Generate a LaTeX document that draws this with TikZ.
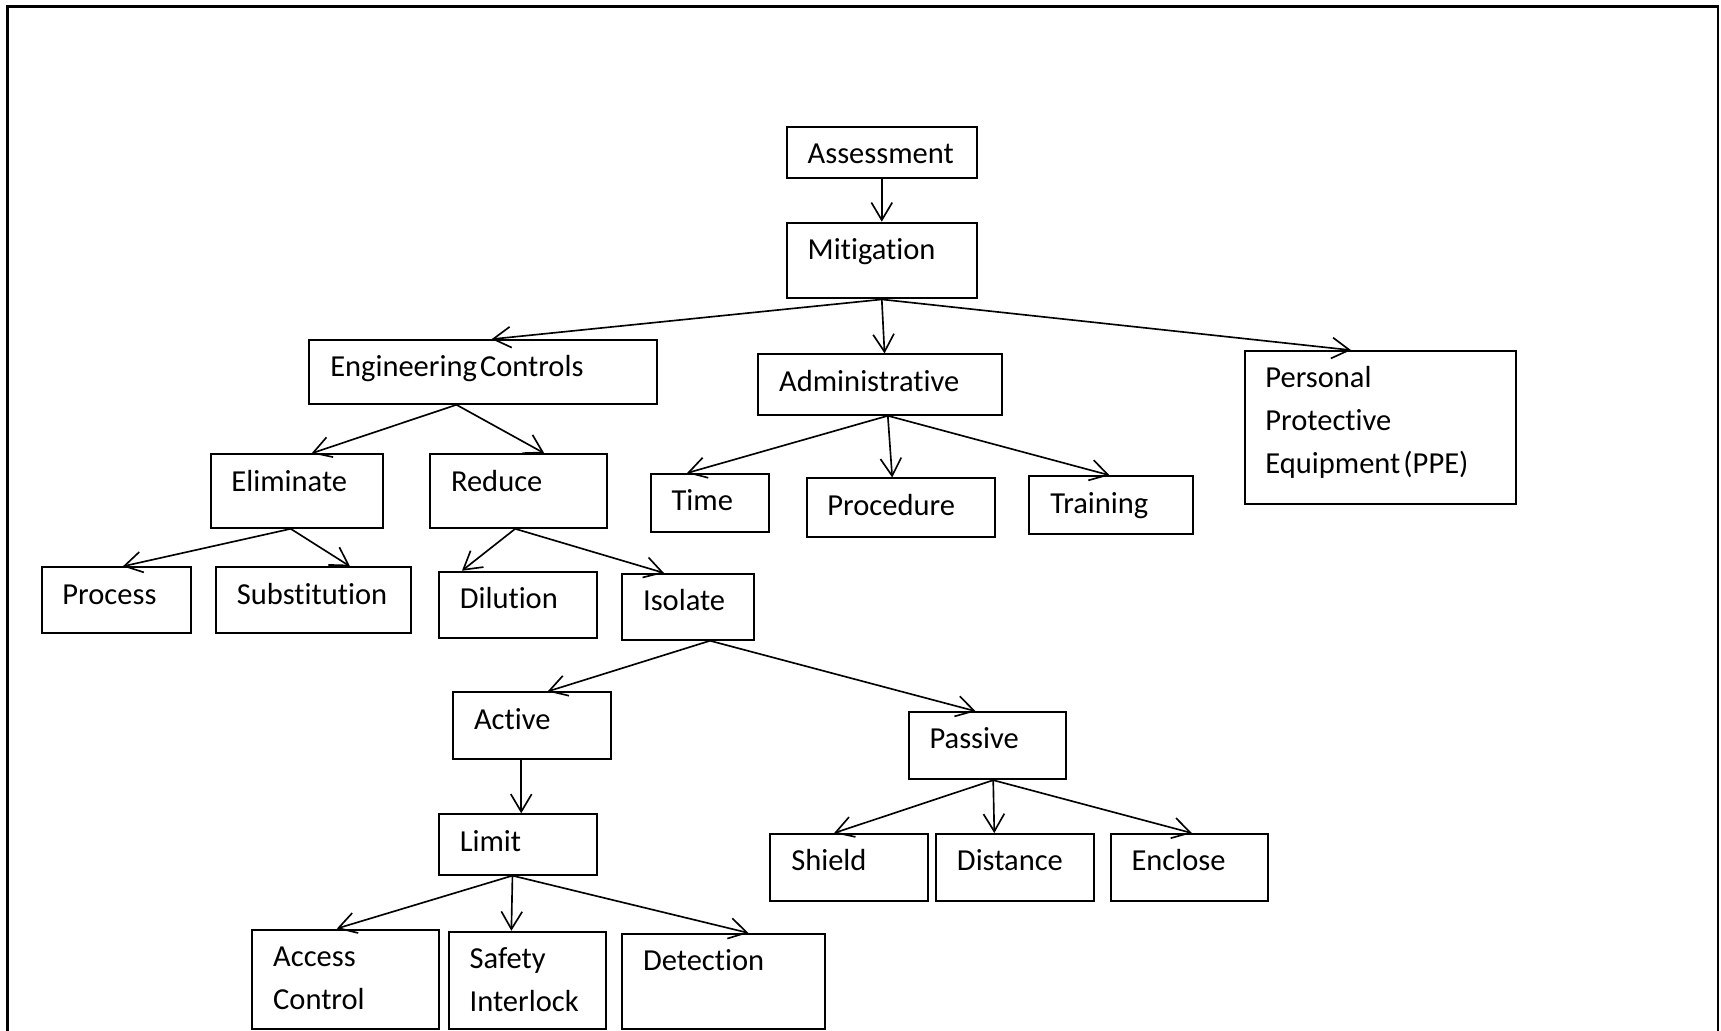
\documentclass[tikz,border=0pt]{standalone}
\usepackage{fontspec}
\setmainfont[Ligatures=NoCommon]{Carlito}
\usetikzlibrary{arrows.meta, calc}

\tikzset{
  box/.style={draw, line width=1.8pt, anchor=north west, align=left,
    inner xsep=19pt, inner ysep=0pt, text height=33.5pt,
    font=\fontsize{27.8pt}{39pt}\selectfont,
    execute at begin node={\spaceskip=0.1em\relax}},
  arr/.style={->, line width=1.5pt},
}

\begin{document}
\begin{tikzpicture}[x=1pt, y=-1pt, >={Straight Barb[length=16pt,width=19pt]}]
\useasboundingbox (0,0) rectangle (1568,939);

% frame
\draw[line width=2.2pt] (7,945) -- (7,6) -- (1565,6) -- (1565,945);

% top
\node[box, text width=135pt, text depth=12.5pt] (assess) at (716,115) {Assessment};
\node[box, text width=135pt, text depth=35.5pt] (mitig) at (716,202) {Mitigation};

% second level
\node[box, text width=279pt, text depth=24.5pt] (eng) at (281,309) {Engineering Controls};
\node[box, text width=184pt, text depth=21.5pt] (admin) at (690,322) {Administrative};
\node[box, text width=209pt, text depth=105.5pt] (ppe) at (1133,319) {Personal\\Protective\\Equipment (PPE)};

% engineering controls
\node[box, text width=119pt, text depth=33.5pt] (elim) at (191,413) {Eliminate};
\node[box, text width=123pt, text depth=33.5pt] (reduce) at (391,413) {Reduce};
\node[box, text width=98pt, text depth=26.5pt] (process) at (37,516) {Process};
\node[box, text width=140pt, text depth=26.5pt] (subst) at (196,516) {Substitution};
\node[box, text width=106pt, text depth=26.5pt] (dilut) at (399,520) {Dilution};
\node[box, text width=82pt, text depth=26.5pt] (isolate) at (566,522) {Isolate};

% administrative
\node[box, text width=70pt, text depth=19.5pt] (time) at (592,431) {Time};
\node[box, text width=134pt, text depth=19.5pt] (proc) at (734,435) {Procedure};
\node[box, text width=111pt, text depth=19.5pt] (train) at (937,433) {Training};

% isolate
\node[box, text width=106pt, text depth=27.5pt] (active) at (412,630) {Active};
\node[box, text width=105pt, text depth=27.5pt] (passive) at (827,648) {Passive};
\node[box, text width=106pt, text depth=21.5pt] (limit) at (399,741) {Limit};
\node[box, text width=106pt, text depth=27.5pt] (shield) at (701,759) {Shield};
\node[box, text width=106pt, text depth=27.5pt] (dist) at (852,759) {Distance};
\node[box, text width=105pt, text depth=27.5pt] (encl) at (1011,759) {Enclose};
\node[box, text width=132pt, text depth=57.5pt] (access) at (229,846) {Access\\Control};
\node[box, text width=105pt, text depth=55.5pt] (safety) at (408,848) {Safety\\Interlock};
\node[box, text width=147pt, text depth=53.5pt] (detect) at (566,850) {Detection};

% arrows
\draw[arr] (assess.south) -- (mitig.north);
\draw[arr] (mitig.south) -- ($(eng.north)+(7.5,0)$);
\draw[arr] (mitig.south) -- ($(admin.north)+(4,0)$);
\draw[arr] (mitig.south) -- ($(ppe.north)+(-26.5,0)$);

\draw[arr] ($(eng.south)+(-24.5,0)$) -- ($(elim.north)+(13.5,0)$);
\draw[arr] ($(eng.south)+(-24.5,0)$) -- ($(reduce.north)+(23.5,0)$);
\draw[arr] ($(admin.south)+(7,0)$) -- ($(time.north)+(-21,0)$);
\draw[arr] ($(admin.south)+(7,0)$) -- ($(proc.north)+(-8,0)$);
\draw[arr] ($(admin.south)+(7,0)$) -- ($(train.north)+(-1.5,0)$);

\draw[arr] ($(elim.south)+(-5.5,0)$) -- ($(process.north)+(6,0)$);
\draw[arr] ($(elim.south)+(-5.5,0)$) -- ($(subst.north)+(33,0)$);
\draw[arr] ($(reduce.south)+(-3,0)$) -- ($(dilut.north)+(-51,0)$);
\draw[arr] ($(reduce.south)+(-3,0)$) -- ($(isolate.north)+(-22,0)$);

\draw[arr] ($(isolate.south)+(20,0)$) -- ($(active.north)+(14,0)$);
\draw[arr] ($(isolate.south)+(20,0)$) -- ($(passive.north)+(-10.5,0)$);
\draw[arr] ($(active.south)+(-10,0)$) -- ($(limit.north)+(3,0)$);

\draw[arr] ($(passive.south)+(5.5,0)$) -- ($(shield.north)+(-14,0)$);
\draw[arr] ($(passive.south)+(5.5,0)$) -- ($(dist.north)+(-19,0)$);
\draw[arr] ($(passive.south)+(5.5,0)$) -- ($(encl.north)+(2.5,0)$);

\draw[arr] ($(limit.south)+(-5,0)$) -- ($(access.north)+(-8,0)$);
\draw[arr] ($(limit.south)+(-5,0)$) -- ($(safety.north)+(-14.5,0)$);
\draw[arr] ($(limit.south)+(-5,0)$) -- ($(detect.north)+(22.5,0)$);

\end{tikzpicture}
\end{document}
